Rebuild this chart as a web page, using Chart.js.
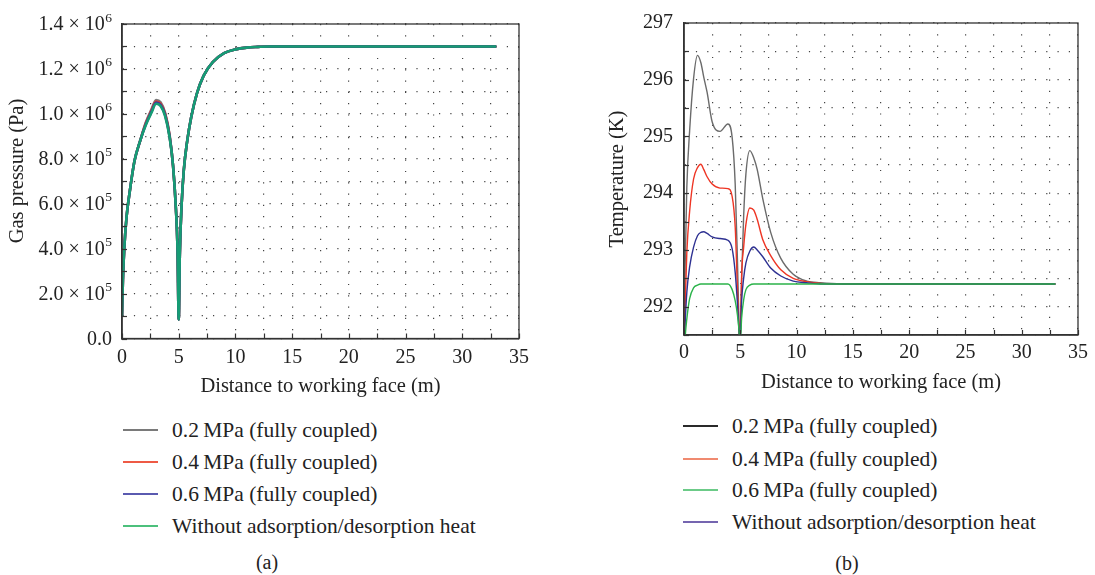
<!DOCTYPE html>
<html>
<head>
<meta charset="utf-8">
<script src="https://cdn.jsdelivr.net/npm/chart.js@4.4.0/dist/chart.umd.min.js"></script>
<style>
  body { margin: 0; padding: 0; background: #fff; width: 1095px; height: 575px; overflow: hidden; position: relative;
         font-family: 'Liberation Serif', 'DejaVu Serif', serif; color: #222; }
  canvas { position: absolute; }
  .row { position: absolute; height: 26px; line-height: 26px; font-size: 21.5px; white-space: nowrap; }
  .swatch { position: absolute; top: 12px; width: 35px; height: 2px; }
  .cap { position: absolute; font-size: 20px; transform: translate(-50%, -50%); }
</style>
</head>
<body>
<canvas id="chartA" width="540" height="405" style="left:0;top:0"></canvas>
<canvas id="chartB" width="535" height="400" style="left:560px;top:0"></canvas>
<div id="legendA"></div>
<div id="legendB"></div>
<div class="cap" style="left:267px;top:562px">(a)</div>
<div class="cap" style="left:847px;top:563px">(b)</div>
<script>
// series names (same for both panels)
const seriesNames = [
  '0.2\u2009MPa (fully coupled)',
  '0.4\u2009MPa (fully coupled)',
  '0.6\u2009MPa (fully coupled)',
  'Without adsorption/desorption heat'
];

// (a) gas pressure, Pa
const pressureX = [0, 0.08, 0.2, 0.4, 0.7, 1.1, 1.6, 2.1, 2.6, 3.0, 3.4, 3.8, 4.2, 4.5, 4.75, 4.9, 5.0, 5.1, 5.25, 5.45, 5.75, 6.1, 6.6, 7.2, 8.0, 9.0, 10.0, 11.0, 12.0, 13.0, 15.0, 20.0, 25.0, 30.0, 33.0];
const pressure02 = [1.0e5, 2.6e5, 4.0e5, 5.4e5, 6.6e5, 7.9e5, 8.8e5, 9.62e5, 10.2e5, 10.62e5, 10.52e5, 10.05e5, 9.05e5, 7.7e5, 5.8e5, 3.9e5, 0.85e5, 3.8e5, 5.9e5, 7.5e5, 8.8e5, 9.85e5, 10.9e5, 11.7e5, 12.3e5, 12.7e5, 12.87e5, 12.95e5, 12.98e5, 13.0e5, 13.0e5, 13.0e5, 13.0e5, 13.0e5, 13.0e5];
const pressure04 = [1.0e5, 2.6e5, 4.0e5, 5.4e5, 6.6e5, 7.9e5, 8.8e5, 9.58e5, 10.15e5, 10.55e5, 10.45e5, 10.0e5, 9.0e5, 7.7e5, 5.8e5, 3.9e5, 0.85e5, 3.8e5, 5.9e5, 7.5e5, 8.8e5, 9.85e5, 10.9e5, 11.7e5, 12.3e5, 12.7e5, 12.87e5, 12.95e5, 12.98e5, 13.0e5, 13.0e5, 13.0e5, 13.0e5, 13.0e5, 13.0e5];
const pressure06 = [1.0e5, 2.6e5, 4.0e5, 5.4e5, 6.6e5, 7.9e5, 8.8e5, 9.54e5, 10.1e5, 10.5e5, 10.4e5, 9.95e5, 8.98e5, 7.7e5, 5.8e5, 3.9e5, 0.85e5, 3.8e5, 5.9e5, 7.5e5, 8.8e5, 9.85e5, 10.9e5, 11.7e5, 12.3e5, 12.7e5, 12.87e5, 12.95e5, 12.98e5, 13.0e5, 13.0e5, 13.0e5, 13.0e5, 13.0e5, 13.0e5];
const pressureNoHeat = [1.0e5, 2.6e5, 4.0e5, 5.4e5, 6.6e5, 7.9e5, 8.8e5, 9.5e5, 10.05e5, 10.45e5, 10.35e5, 9.9e5, 8.95e5, 7.7e5, 5.8e5, 3.9e5, 0.85e5, 3.8e5, 5.9e5, 7.5e5, 8.8e5, 9.85e5, 10.9e5, 11.7e5, 12.3e5, 12.7e5, 12.87e5, 12.95e5, 12.98e5, 13.0e5, 13.0e5, 13.0e5, 13.0e5, 13.0e5, 13.0e5];
// tick labels of (a): mantissa part and power of ten
const pressureTickBase = ['0.0', '2.0 \u00d7 10', '4.0 \u00d7 10', '6.0 \u00d7 10', '8.0 \u00d7 10', '1.0 \u00d7 10', '1.2 \u00d7 10', '1.4 \u00d7 10'];
const pressureTickExp = ['', '5', '5', '5', '5', '6', '6', '6'];

// (b) temperature, K
const tempX = [0, 0.1, 0.25, 0.5, 0.85, 1.2, 1.5, 1.75, 2.05, 2.5, 3.2, 3.9, 4.28, 4.55, 4.75, 4.88, 4.95, 5.02, 5.12, 5.3, 5.5, 5.85, 6.2, 6.5, 7.0, 7.7, 8.6, 9.7, 10.9, 12.1, 14, 20, 25, 30, 33];
const temp02 = [291.2, 292.7, 294.1, 295.1, 296.02, 296.43, 296.3, 296.05, 295.78, 295.26, 295.09, 295.22, 294.98, 294.15, 292.8, 291.76, 291.3, 291.6, 292.5, 293.6, 294.34, 294.75, 294.62, 294.42, 293.9, 293.31, 292.85, 292.57, 292.45, 292.42, 292.4, 292.4, 292.4, 292.4, 292.4];
const temp04 = [291.2, 292.0, 292.95, 293.68, 294.25, 294.45, 294.51, 294.42, 294.29, 294.16, 294.09, 294.08, 293.94, 293.4, 292.3, 291.65, 291.35, 291.6, 292.55, 293.05, 293.45, 293.74, 293.7, 293.54, 293.18, 292.9, 292.65, 292.5, 292.44, 292.41, 292.4, 292.4, 292.4, 292.4, 292.4];
const temp06 = [291.2, 291.7, 292.25, 292.7, 293.05, 293.25, 293.31, 293.32, 293.29, 293.23, 293.2, 293.17, 293.02, 292.6, 292.05, 291.6, 291.4, 291.55, 292.1, 292.5, 292.77, 292.98, 293.05, 293.0, 292.88, 292.68, 292.54, 292.45, 292.42, 292.4, 292.4, 292.4, 292.4, 292.4, 292.4];
const tempNoHeat = [291.0, 291.45, 291.78, 292.14, 292.33, 292.38, 292.4, 292.4, 292.4, 292.4, 292.4, 292.4, 292.3, 292.1, 291.85, 291.6, 291.45, 291.45, 291.8, 292.12, 292.3, 292.38, 292.4, 292.4, 292.4, 292.4, 292.4, 292.4, 292.4, 292.4, 292.4, 292.4, 292.4, 292.4, 292.4];

const pressureColors = ['#7a7a7a', '#e8392a', '#3a3a9c', '#169c74'];
const tempColors = ['#6b6b6b', '#ee3524', '#2e3192', '#2bb34a'];
// legend swatches as printed (panel b's do not follow its curves)
const legendColorsA = ['#7a7a7a', '#ee5a45', '#5a5ab0', '#4cc07c'];
const legendColorsB = ['#2a2a2a', '#f08a70', '#6ccb88', '#7565b0'];

const FONT = "'Liberation Serif', 'DejaVu Serif', serif";
Chart.defaults.font.family = FONT;
Chart.defaults.color = '#222';

// box round the plot plus short inward tick marks
const framePlugin = {
  id: 'frame',
  afterDraw(chart) {
    const { ctx, chartArea: a, scales } = chart;
    ctx.save();
    ctx.strokeStyle = '#333';
    ctx.lineWidth = 1.3;
    ctx.strokeRect(a.left, a.top, a.right - a.left, a.bottom - a.top);
    ctx.lineWidth = 1.2;
    scales.x.ticks.forEach(t => {
      const px = Math.round(scales.x.getPixelForValue(t.value)) + 0.5;
      ctx.beginPath(); ctx.moveTo(px, a.bottom); ctx.lineTo(px, a.bottom - 5); ctx.stroke();
    });
    scales.y.ticks.forEach(t => {
      const py = Math.round(scales.y.getPixelForValue(t.value)) + 0.5;
      ctx.beginPath(); ctx.moveTo(a.left, py); ctx.lineTo(a.left + 5, py); ctx.stroke();
    });
    ctx.restore();
  }
};

// "m × 10^n" labels for the pressure axis, with a raised exponent
const sciTickPlugin = {
  id: 'sciTicks',
  afterDraw(chart) {
    const { ctx, scales } = chart;
    const y = scales.y;
    ctx.save();
    ctx.fillStyle = '#222';
    ctx.textBaseline = 'middle';
    y.ticks.forEach((t, i) => {
      if (i % 2) return;
      const k = i / 2;
      const py = y.getPixelForValue(t.value);
      const exp = pressureTickExp[k];
      const right = 112;
      ctx.font = '13.5px ' + FONT;
      const ew = exp ? ctx.measureText(exp).width + 0.5 : 0;
      if (exp) {
        ctx.textAlign = 'right';
        ctx.fillText(exp, right, py - 6);
      }
      ctx.font = '20px ' + FONT;
      ctx.textAlign = 'right';
      ctx.fillText(pressureTickBase[k], right - ew, py + 1);
    });
    ctx.restore();
  }
};

function makeSets(xs, series, colors, width) {
  return series.map((ys, i) => ({
    label: seriesNames[i],
    data: xs.map((x, j) => ({ x: x, y: ys[j] })),
    borderColor: colors[i],
    borderWidth: width,
    pointRadius: 0,
    cubicInterpolationMode: 'monotone',
    fill: false,
    order: series.length - 1 - i   // last series drawn on top
  }));
}

function gridAxis(extra) {
  return Object.assign({
    type: 'linear',
    grid: { color: '#444', lineWidth: 1.2, drawTicks: false },
    border: { display: true, color: '#333', width: 1.6, dash: [1.2, 10.1] }
  }, extra);
}

function makeChart(id, xs, series, colors, lw, yOpts, yTitle, dims, extraPlugins) {
  return new Chart(document.getElementById(id), {
    type: 'line',
    data: { datasets: makeSets(xs, series, colors, lw) },
    plugins: [framePlugin].concat(extraPlugins),
    options: {
      responsive: false,
      animation: false,
      devicePixelRatio: 1,
      layout: { padding: { top: dims.top, right: dims.right, left: 0, bottom: 0 } },
      plugins: { legend: { display: false }, tooltip: { enabled: false } },
      scales: {
        x: gridAxis({
          min: 0, max: 35,
          afterFit: s => { s.height = dims.xh; },
          ticks: {
            stepSize: 2.5, autoSkip: false, maxRotation: 0, padding: dims.xpad,
            font: { size: 20 }, color: '#222',
            callback: v => (v % 5 === 0 ? String(v) : '')
          },
          title: { display: true, text: 'Distance to working face (m)', font: { size: 20.5 }, color: '#222', padding: { top: 0, bottom: dims.xtb } }
        }),
        y: gridAxis(Object.assign({
          afterFit: s => { s.width = dims.yw; },
          title: { display: true, text: yTitle, font: { size: 20.5 }, color: '#222', padding: { top: dims.ytp, bottom: 0 } }
        }, yOpts))
      }
    }
  });
}

// two leading en spaces lift the rotated title a little, as in the figure
makeChart('chartA', pressureX, [pressure02, pressure04, pressure06, pressureNoHeat], pressureColors, 2.6, {
  min: 0, max: 1.4e6,
  ticks: { stepSize: 1e5, autoSkip: false, display: false }
}, '\u2002\u2002Gas pressure (Pa)', { top: 24, right: 21, xh: 66.5, xpad: 7, xtb: 6, yw: 122, ytp: 5 }, [sciTickPlugin]);

makeChart('chartB', tempX, [temp02, temp04, temp06, tempNoHeat], tempColors, 1.4, {
  min: 291.5, max: 297,
  ticks: {
    stepSize: 0.5, autoSkip: false, padding: 11, font: { size: 20 }, color: '#222',
    callback: v => (Number.isInteger(v) ? String(v) : '')
  }
}, 'Temperature (K)', { top: 16, right: 17, xh: 65, xpad: 6, xtb: 5, yw: 124, ytp: 45 }, []);

// legends as printed under each panel
function buildLegend(id, lineX, textX, rowsY, colors) {
  const box = document.getElementById(id);
  seriesNames.forEach((name, i) => {
    const row = document.createElement('div');
    row.className = 'row';
    row.style.left = lineX + 'px';
    row.style.top = Math.round(rowsY[i] - 13) + 'px';
    const sw = document.createElement('span');
    sw.className = 'swatch';
    sw.style.left = '0px';
    sw.style.background = colors[i];
    const tx = document.createElement('span');
    tx.style.position = 'absolute';
    tx.style.left = (textX - lineX) + 'px';
    tx.textContent = name;
    row.appendChild(sw);
    row.appendChild(tx);
    box.appendChild(row);
  });
}
buildLegend('legendA', 123, 172, [430, 462, 494, 526], legendColorsA);
buildLegend('legendB', 683, 732, [426, 459, 490, 522], legendColorsB);
</script>
</body>
</html>
